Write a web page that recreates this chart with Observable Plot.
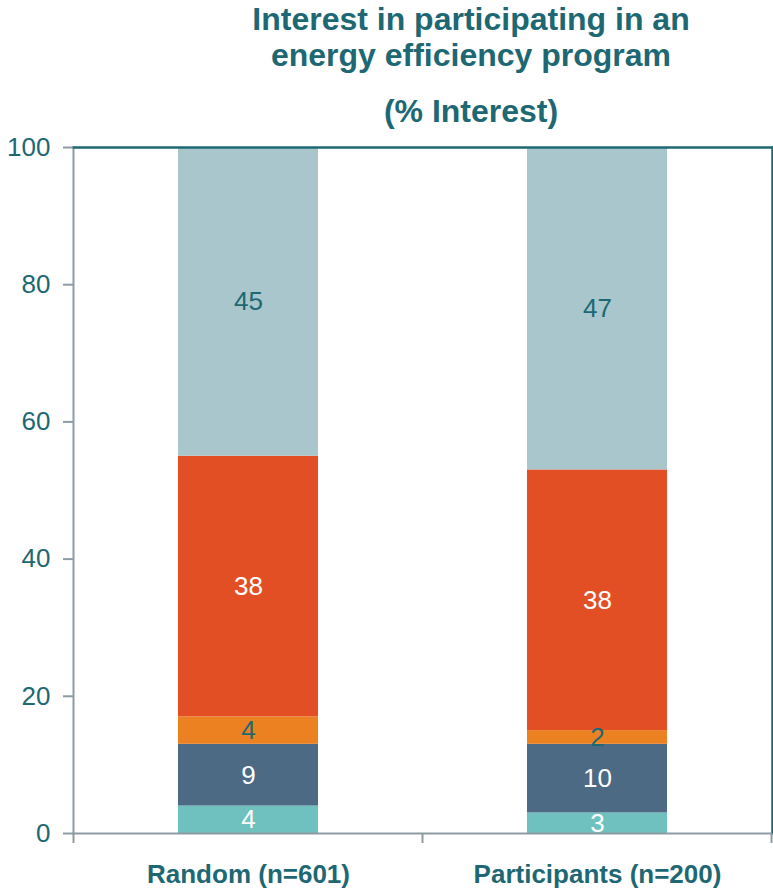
<!DOCTYPE html>
<html>
<head>
<meta charset="utf-8">
<script src="https://cdn.jsdelivr.net/npm/d3@7"></script>
<script src="https://cdn.jsdelivr.net/npm/@observablehq/plot@0.6"></script>
<style>
  html, body { margin: 0; padding: 0; background: #fff; }
  body { width: 773px; height: 888px; overflow: hidden; font-family: "Liberation Sans", Arial, sans-serif; }
  #title { position: relative; width: 773px; height: 135px; color: #1d6873; font-weight: bold; }
  #title .t { position: absolute; left: 169px; right: 0; text-align: center; font-size: 32px; line-height: 36px; white-space: nowrap; }
  #chart svg { display: block; }
</style>
</head>
<body>
<div id="title">
  <div class="t" style="top:1px">Interest in participating in an<br>energy efficiency program</div>
  <div class="t" style="top:93px">(% Interest)</div>
</div>
<div id="chart"></div>
<script>
// ---- data ----
const categories = ["Random (n=601)", "Participants (n=200)"];
const segments = ["Segment 1", "Segment 2", "Segment 3", "Segment 4", "Segment 5"]; // bottom to top
const randomValues = [4, 9, 4, 38, 45];
const participantValues = [3, 10, 2, 38, 47];
const yTicks = [0, 20, 40, 60, 80, 100];

// ---- styles ----
const segmentColors = ["#6fc1c0", "#4c6a84", "#ec8122", "#e34f25", "#a8c6cb"];
const labelColors = ["#ffffff", "#ffffff", "#1d6873", "#ffffff", "#1d6873"];
const teal = "#1d6873";
const grey = "#8c9ca2";

const rows = [];
[randomValues, participantValues].forEach((vals, ci) => {
  vals.forEach((v, si) => rows.push({group: categories[ci], segment: segments[si], value: v}));
});
const segIndex = s => segments.indexOf(s);

const plot = Plot.plot({
  width: 773,
  height: 753,
  marginTop: 12,
  marginBottom: 55,
  marginLeft: 73,
  marginRight: 1,
  style: {fontFamily: "'Liberation Sans', Arial, sans-serif", background: "white", overflow: "visible"},
  x: {domain: categories, paddingInner: 0.6, paddingOuter: 0.3, axis: null, label: null},
  y: {domain: [0, 100], axis: null, label: null},
  color: {type: "identity"},
  marks: [
    Plot.barY(rows, {x: "group", y: "value", fill: d => segmentColors[segIndex(d.segment)]}),
    Plot.text(rows, Plot.stackY({
      x: "group", y: "value", text: d => String(d.value),
      fill: d => labelColors[segIndex(d.segment)], fontSize: 26
    })),
    Plot.frame({anchor: "left", stroke: grey, strokeWidth: 2}),
    Plot.frame({anchor: "bottom", stroke: grey, strokeWidth: 2}),
    Plot.frame({anchor: "top", stroke: teal, strokeWidth: 2.5}),
    Plot.frame({anchor: "right", stroke: teal, strokeWidth: 2.5}),
    Plot.axisY({ticks: yTicks, tickSize: 10, tickPadding: 13, stroke: grey, strokeWidth: 2,
      color: teal, fontSize: 26, tickFormat: d => String(d), label: null}),
    Plot.axisX({tickSize: 0, tickPadding: 31, fontSize: 26, fontWeight: "bold", color: teal, label: null})
  ]
});

document.getElementById("chart").appendChild(plot);

// boundary ticks on the category axis (between and around the bands)
const xs = plot.scale("x");
const ys = plot.scale("y");
const y0 = ys.apply(0);
const bounds = [];
categories.forEach((c, i) => {
  const center = xs.apply(c) + xs.bandwidth / 2;
  if (i === 0) bounds.push(center - xs.step / 2);
  bounds.push(center + xs.step / 2);
});
const svg = d3.select(plot);
svg.append("g").selectAll("line").data(bounds).join("line")
  .attr("x1", d => d).attr("x2", d => d)
  .attr("y1", y0).attr("y2", y0 + 10)
  .attr("stroke", grey).attr("stroke-width", 2);
</script>
</body>
</html>
